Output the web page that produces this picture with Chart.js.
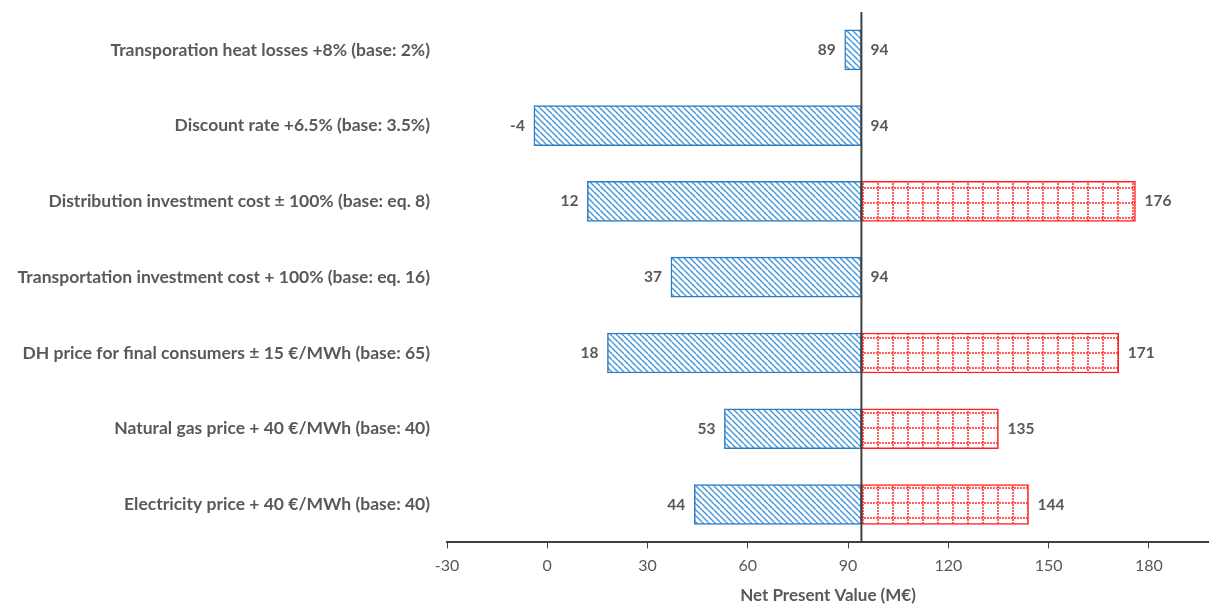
<!DOCTYPE html>
<html>
<head>
<meta charset="utf-8">
<script src="https://cdn.jsdelivr.net/npm/chart.js@4/dist/chart.umd.min.js"></script>
<style>
    html, body { margin: 0; padding: 0; background: #fff; }
    #wrap { width: 1209px; height: 606px; position: relative; }
</style>
</head>
<body>
<div id="wrap"><canvas id="tornado"></canvas></div>
<script>
// Datos del gráfico
const categories = [
    'Transporation heat losses +8% (base: 2%)',
    'Discount rate +6.5% (base: 3.5%)',
    'Distribution investment cost ± 100% (base: eq. 8)',
    'Transportation investment cost + 100% (base: eq. 16)',
    'DH price for final consumers ± 15 €/MWh (base: 65)',
    'Natural gas price + 40 €/MWh (base: 40)',
    'Electricity price + 40 €/MWh (base: 40)'
];
const baseValue = 94;
const lowValues = [89, -4, 12, 37, 18, 53, 44];
const highValues = [94, 94, 176, 94, 171, 135, 144];
const xTicks = [-30, 0, 30, 60, 90, 120, 150, 180];

const FONT = 'Lato, "Open Sans", sans-serif';
const TEXT = '#595959';

// Tramado diagonal azul
function blueHatch() {
    const s = 6;
    const c = document.createElement('canvas');
    c.width = s; c.height = s;
    const g = c.getContext('2d');
    g.fillStyle = '#fff';
    g.fillRect(0, 0, s, s);
    g.strokeStyle = '#4396da';
    g.lineWidth = 1.4;
    [-s, 0, s].forEach(k => {
        g.beginPath();
        g.moveTo(k, 0);
        g.lineTo(k + s, s);
        g.stroke();
    });
    return g.createPattern(c, 'repeat');
}

// Cuadrícula punteada roja
function redGrid() {
    const s = 15;
    const c = document.createElement('canvas');
    c.width = s; c.height = s;
    const g = c.getContext('2d');
    g.fillStyle = '#fff';
    g.fillRect(0, 0, s, s);
    g.fillStyle = 'rgba(255, 40, 40, 0.75)';
    for (let i = 0; i < s; i += 3) {
        g.fillRect(7, i, 2, 2);
        g.fillRect(i, 7, 2, 2);
    }
    return g.createPattern(c, 'repeat');
}

// Eje vertical en el valor base y etiquetas de valores
const tornadoPlugin = {
    id: 'tornadoPlugin',
    afterDatasetsDraw(chart) {
        const ctx = chart.ctx;
        const x = chart.scales.x;
        const y = chart.scales.y;
        const area = chart.chartArea;
        const bx = x.getPixelForValue(baseValue);

        ctx.save();
        ctx.strokeStyle = '#404040';
        ctx.lineWidth = 2;
        ctx.beginPath();
        ctx.moveTo(bx, area.top);
        ctx.lineTo(bx, area.bottom);
        ctx.stroke();

        ctx.font = 'bold 15.5px ' + FONT;
        ctx.fillStyle = TEXT;
        ctx.textBaseline = 'middle';
        categories.forEach((c, i) => {
            const cy = y.getPixelForValue(i);
            ctx.textAlign = 'right';
            ctx.fillText(String(lowValues[i]), x.getPixelForValue(lowValues[i]) - 9, cy);
            ctx.textAlign = 'left';
            ctx.fillText(String(highValues[i]), x.getPixelForValue(highValues[i]) + 9, cy);
        });
        ctx.restore();
    }
};

const ctx = document.getElementById('tornado').getContext('2d');

new Chart(ctx, {
    type: 'bar',
    data: {
        labels: categories,
        datasets: [
            {
                label: 'Low',
                data: lowValues.map(v => [v, baseValue]),
                backgroundColor: blueHatch(),
                borderColor: '#2e7bc4',
                borderWidth: 1.5,
                borderSkipped: false,
                barThickness: 40,
                grouped: false
            },
            {
                label: 'High',
                data: highValues.map(v => v === baseValue ? null : [baseValue, v]),
                backgroundColor: redGrid(),
                borderColor: '#ff2020',
                borderWidth: 1.5,
                borderSkipped: false,
                barThickness: 40,
                grouped: false
            }
        ]
    },
    options: {
        indexAxis: 'y',
        responsive: true,
        maintainAspectRatio: false,
        animation: false,
        layout: {
            padding: { top: 12, right: 0, bottom: 0, left: 0 }
        },
        plugins: {
            legend: { display: false },
            tooltip: { enabled: false }
        },
        scales: {
            x: {
                min: -30,
                max: 198,
                afterBuildTicks: scale => {
                    scale.ticks = xTicks.map(v => ({ value: v }));
                },
                ticks: {
                    color: TEXT,
                    padding: 8,
                    font: { family: FONT, size: 16 }
                },
                grid: {
                    drawOnChartArea: false,
                    drawTicks: true,
                    tickLength: 6,
                    color: '#404040'
                },
                border: { color: '#404040', width: 2 },
                title: {
                    display: true,
                    text: 'Net Present Value (M€)',
                    color: TEXT,
                    padding: { top: 2, bottom: 0 },
                    font: { family: FONT, size: 17, weight: 'bold' }
                }
            },
            y: {
                afterFit: scale => {
                    scale.width = 447;
                    scale.paddingTop = 0;
                    scale.paddingBottom = 0;
                },
                ticks: {
                    color: TEXT,
                    padding: 9,
                    font: { family: FONT, size: 17.5, weight: 'bold' }
                },
                grid: { display: false },
                border: { display: false }
            }
        }
    },
    plugins: [tornadoPlugin]
});
</script>
</body>
</html>
